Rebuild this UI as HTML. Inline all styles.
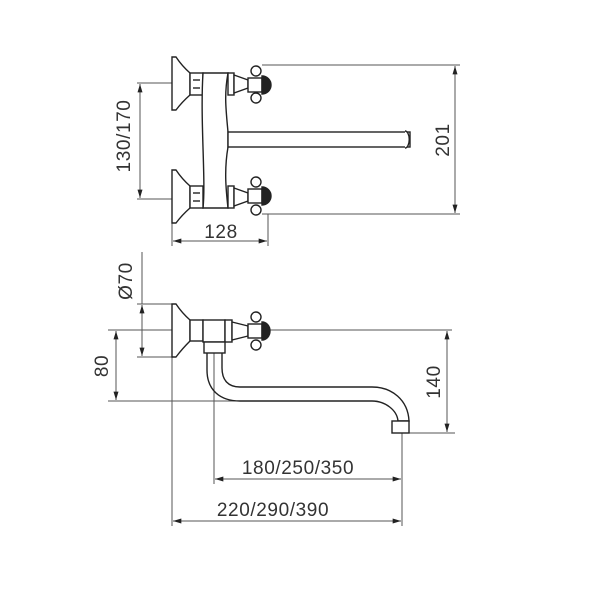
<!DOCTYPE html>
<html><head><meta charset="utf-8"><style>
html,body{margin:0;padding:0;background:#fff;width:607px;height:600px;overflow:hidden}
text{font-family:"Liberation Sans","DejaVu Sans",sans-serif;font-size:19px;fill:#333;letter-spacing:0.6px}
</style></head><body>
<svg width="607" height="600" viewBox="0 0 607 600" xmlns="http://www.w3.org/2000/svg">
<defs>
<marker id="a" viewBox="0 0 10 6" refX="10" refY="3" markerWidth="9" markerHeight="5" orient="auto-start-reverse" markerUnits="userSpaceOnUse"><path d="M0,0L10,3L0,6z" fill="#222"/></marker>
</defs>
<g stroke="#555" stroke-width="1" fill="none">
<line x1="262" y1="65" x2="460" y2="65"/>
<line x1="262" y1="214" x2="460" y2="214"/>
<line x1="455" y1="66" x2="455" y2="213" marker-start="url(#a)" marker-end="url(#a)"/>
<line x1="137" y1="83" x2="172" y2="83"/>
<line x1="137" y1="199" x2="172" y2="199"/>
<line x1="140" y1="84" x2="140" y2="198" marker-start="url(#a)" marker-end="url(#a)"/>
<line x1="172" y1="205" x2="172" y2="246"/>
<line x1="268" y1="214" x2="268" y2="246"/>
<line x1="173" y1="241" x2="267" y2="241" marker-start="url(#a)" marker-end="url(#a)"/>
<line x1="108" y1="330" x2="452" y2="330"/>
<line x1="108" y1="401" x2="240" y2="401"/>
<line x1="137" y1="304" x2="172" y2="304"/>
<line x1="137" y1="357" x2="172" y2="357"/>
<line x1="142" y1="252" x2="142" y2="304"/>
<line x1="142" y1="305" x2="142" y2="356" marker-start="url(#a)" marker-end="url(#a)"/>
<line x1="116" y1="331" x2="116" y2="400" marker-start="url(#a)" marker-end="url(#a)"/>
<line x1="392" y1="433" x2="455" y2="433"/>
<line x1="447" y1="331" x2="447" y2="432" marker-start="url(#a)" marker-end="url(#a)"/>
<line x1="172" y1="357" x2="172" y2="526"/>
<line x1="214" y1="352" x2="214" y2="484"/>
<line x1="402" y1="433" x2="402" y2="526"/>
<line x1="215" y1="479" x2="401" y2="479" marker-start="url(#a)" marker-end="url(#a)"/>
<line x1="173" y1="521" x2="401" y2="521" marker-start="url(#a)" marker-end="url(#a)"/>
</g>
<g stroke="#222" stroke-width="1.4" fill="#fff">
<path d="M172,57 L176,57 Q182,66 190,73 L190,95 Q182,102 176,110 L172,110 Z"/>
<rect x="190" y="73" width="13" height="22"/>
<line x1="193" y1="80" x2="200" y2="80"/><line x1="193" y1="88" x2="200" y2="88"/>
<path d="M203,73 L228,73 C224,95 226,110 228,132 L228,147 C224,170 226,190 228,208 L203,208 C206,180 200,120 203,73 Z"/>
<rect x="228" y="73" width="6" height="22"/>
<path d="M234,75 L248,80 L248,88 L234,93 Z"/>
<rect x="248" y="78" width="14" height="14"/>
<path d="M262,76 A8,8 0 0 1 262,94 Z" fill="#222"/>
<circle cx="256" cy="71" r="5"/><circle cx="256" cy="98" r="5"/>
<rect x="228" y="132" width="182" height="15"/>
<path d="M405,131 A4,8 0 0 1 405,148" />
<path d="M172,170 L176,170 Q182,179 190,186 L190,208 Q182,215 176,223 L172,223 Z"/>
<rect x="190" y="186" width="13" height="22"/>
<line x1="193" y1="193" x2="200" y2="193"/><line x1="193" y1="201" x2="200" y2="201"/>
<rect x="228" y="186" width="6" height="22"/>
<path d="M234,188 L248,193 L248,201 L234,206 Z"/>
<rect x="248" y="189" width="14" height="14"/>
<path d="M262,187 A8,8 0 0 1 262,205 Z" fill="#222"/>
<circle cx="256" cy="182" r="5"/><circle cx="256" cy="210" r="5"/>
<path d="M172,304 L176,304 Q182,313 190,320 L190,341 Q182,349 176,357 L172,357 Z"/>
<rect x="190" y="320" width="13" height="21"/>
<rect x="203" y="320" width="22" height="22"/>
<rect x="225" y="320" width="7" height="22"/>
<path d="M232,322 L248,326 L248,336 L232,340 Z"/>
<rect x="248" y="324" width="14" height="14"/>
<path d="M262,322 A8,9 0 0 1 262,340 Z" fill="#222"/>
<circle cx="256" cy="317" r="5"/><circle cx="256" cy="345" r="5"/>
<rect x="204" y="342" width="21" height="11"/>
<path d="M207,353 L207,370 C207,390 220,401 240,401 L372,401 C385,401 397,410 398,421 L409,421 C408,400 392,387 372,387 L240,387 C228,387 222,380 222,368 L222,353" fill="none"/>
<rect x="392" y="421" width="17" height="12"/>
</g>
<g>
<text x="0" y="0" transform="translate(444,140) rotate(-90)" text-anchor="middle" dominant-baseline="middle">201</text>
<text x="0" y="0" transform="translate(125,136) rotate(-90)" text-anchor="middle" dominant-baseline="middle">130/170</text>
<text x="221" y="238" text-anchor="middle">128</text>
<text x="0" y="0" transform="translate(127,281) rotate(-90)" text-anchor="middle" dominant-baseline="middle">Ø70</text>
<text x="0" y="0" transform="translate(103,366) rotate(-90)" text-anchor="middle" dominant-baseline="middle">80</text>
<text x="0" y="0" transform="translate(435,382) rotate(-90)" text-anchor="middle" dominant-baseline="middle">140</text>
<text x="298" y="474" text-anchor="middle">180/250/350</text>
<text x="273" y="516" text-anchor="middle">220/290/390</text>
</g>
</svg>
</body></html>
